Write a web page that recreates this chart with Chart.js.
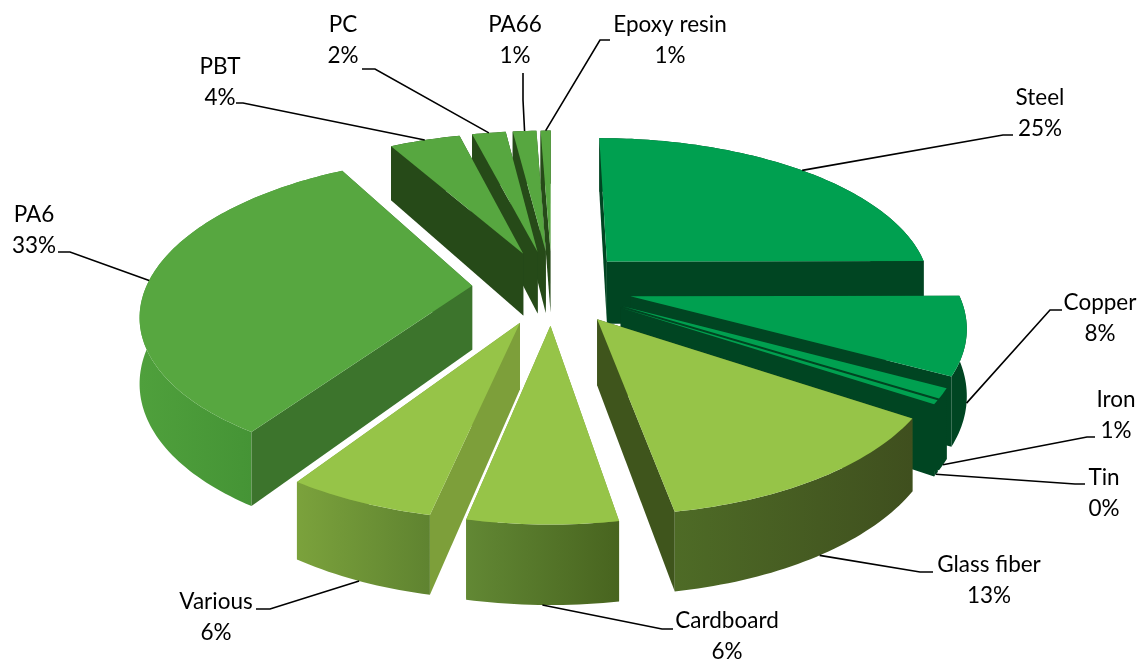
<!DOCTYPE html>
<html>
<head>
<meta charset="utf-8">
<style>
  html, body { margin: 0; padding: 0; background: #fff; }
  canvas { display: block; }
</style>
<script src="https://cdn.jsdelivr.net/npm/chart.js@4"></script>
</head>
<body>
<canvas id="pie" width="1140" height="660"></canvas>
<script>
const materials = ['Steel', 'Copper', 'Iron', 'Tin', 'Glass fiber', 'Cardboard', 'Various', 'PA6', 'PBT', 'PC', 'PA66', 'Epoxy resin'];
const shares = [25, 8, 1, 0.4, 13, 6, 6, 32.6, 4.2, 2, 1.4, 0.6];
const shareLabels = ['25%', '8%', '1%', '0%', '13%', '6%', '6%', '33%', '4%', '2%', '1%', '1%'];

// slice colours
const topColors = ['#00a050', '#00a050', '#00a050', '#00a050', '#96c448', '#96c448', '#96c448', '#57a740', '#57a740', '#57a740', '#57a740', '#57a740'];
const cutColors = ['#004522', '#004522', '#004522', '#004522', '#3f551c', '#7d9f3a', '#7d9f3a', '#3c742c', '#264a18', '#264a18', '#264a18', '#264a18'];
const wallLeft = ['#004522', '#004522', '#004522', '#004522', '#4e6b26', '#628834', '#7ba23c', '#4fa03c', '#264a18', '#264a18', '#264a18', '#264a18'];
const wallRight = ['#004522', '#004522', '#004522', '#004522', '#3f4f1e', '#48641f', '#5f8330', '#3d8a30', '#264a18', '#264a18', '#264a18', '#264a18'];

// label placement: text centre x, first line y, leader bend, leader end
const labelSpots = [
  [1040, 98, 1003, 135, 1013, 135],
  [1100, 303, 1050, 310, 1062, 310],
  [1116, 400, 1087, 437, 1095, 437],
  [1104, 478, 1075, 484, 1085, 484],
  [989, 565, 920, 572, 933, 572],
  [727, 621, 662, 629, 673, 629],
  [216, 602, 270, 609, 256, 609],
  [34, 215, 70, 252, 58, 252],
  [220, 67, 243, 103, 236, 103],
  [343, 25, 375, 69, 362, 69],
  [515, 25, 523, 100, 523, 73],
  [670, 25, 600, 40, 610, 40]
];

const tilt = 0.4646;
const perspective = 0.000507;
const depth = 64;

function project(el, px, py, low) {
  const w = 1 / (1 - py * perspective);
  return {
    x: el.x + px * w,
    y: el.y + py * tilt * w + (low ? depth * w : 0)
  };
}

function sliceOutline(el) {
  const shift = el.options.offset / 4;
  const mid = (el.startAngle + el.endAngle) / 2;
  const tx = Math.cos(mid) * shift;
  const ty = Math.sin(mid) * shift;
  const pts = [[tx, ty]];
  const steps = Math.max(2, Math.ceil((el.endAngle - el.startAngle) / 0.02));
  for (let s = 0; s <= steps; s++) {
    const a = el.startAngle + (el.endAngle - el.startAngle) * s / steps;
    pts.push([tx + Math.cos(a) * el.outerRadius, ty + Math.sin(a) * el.outerRadius]);
  }
  return pts;
}

function fillPoly(ctx, corners, fill) {
  ctx.beginPath();
  corners.forEach((p, i) => i ? ctx.lineTo(p.x, p.y) : ctx.moveTo(p.x, p.y));
  ctx.closePath();
  ctx.fillStyle = fill;
  ctx.fill();
}

function drawSlice(ctx, el, i) {
  const pts = sliceOutline(el);
  const top = pts.map(p => project(el, p[0], p[1], false));
  const low = pts.map(p => project(el, p[0], p[1], true));
  const last = pts.length - 1;
  const rimTop = top.slice(1);
  const rimLow = low.slice(1).reverse();
  const xs = rimTop.map(p => p.x);
  const grad = ctx.createLinearGradient(Math.min(...xs), 0, Math.max(...xs), 0);
  grad.addColorStop(0, wallLeft[i]);
  grad.addColorStop(1, wallRight[i]);

  const cuts = [[top[0], top[1], low[1], low[0]], [top[0], top[last], low[last], low[0]]];
  cuts.sort((a, b) => a[1].y - b[1].y);
  const drawCuts = () => cuts.forEach(c => fillPoly(ctx, c, cutColors[i]));
  const drawRim = () => fillPoly(ctx, rimTop.concat(rimLow), grad);

  // front slices show the rim over the cut faces, back slices the other way
  if (Math.sin((el.startAngle + el.endAngle) / 2) > 0) {
    drawCuts();
    drawRim();
  } else {
    drawRim();
    drawCuts();
  }
  fillPoly(ctx, top, topColors[i]);
}

const pie3d = {
  id: 'pie3d',
  beforeDatasetDraw(chart, args) {
    const ctx = chart.ctx;
    const arcs = args.meta.data.map((el, i) => ({ el, i }));
    // back slices first
    arcs.sort((a, b) => Math.sin((a.el.startAngle + a.el.endAngle) / 2) - Math.sin((b.el.startAngle + b.el.endAngle) / 2));
    arcs.forEach(a => drawSlice(ctx, a.el, a.i));
    return false;
  },
  afterDatasetsDraw(chart) {
    const ctx = chart.ctx;
    chart.getDatasetMeta(0).data.forEach((el, i) => {
      const mid = (el.startAngle + el.endAngle) / 2;
      const reach = el.outerRadius + el.options.offset / 4;
      const px = Math.cos(mid) * reach;
      const py = Math.sin(mid) * reach;
      const from = project(el, px, py, Math.sin(mid) > 0.1);
      const spot = labelSpots[i];
      ctx.beginPath();
      ctx.moveTo(from.x, from.y);
      ctx.lineTo(spot[2], spot[3]);
      ctx.lineTo(spot[4], spot[5]);
      ctx.strokeStyle = '#000';
      ctx.lineWidth = 1.6;
      ctx.stroke();

      ctx.fillStyle = '#000';
      ctx.font = '22.5px Lato';
      ctx.textAlign = 'center';
      ctx.textBaseline = 'middle';
      ctx.fillText(materials[i], spot[0], spot[1]);
      ctx.fillText(shareLabels[i], spot[0], spot[1] + 31);
    });
  }
};

new Chart(document.getElementById('pie'), {
  type: 'pie',
  data: {
    labels: materials,
    datasets: [{
      data: shares,
      backgroundColor: topColors,
      radius: 326,
      offset: 320,
      borderWidth: 0
    }]
  },
  options: {
    responsive: false,
    animation: false,
    layout: { padding: { right: 36, bottom: 86 } },
    plugins: { legend: { display: false }, tooltip: { enabled: false } }
  },
  plugins: [pie3d]
});
</script>
</body>
</html>
